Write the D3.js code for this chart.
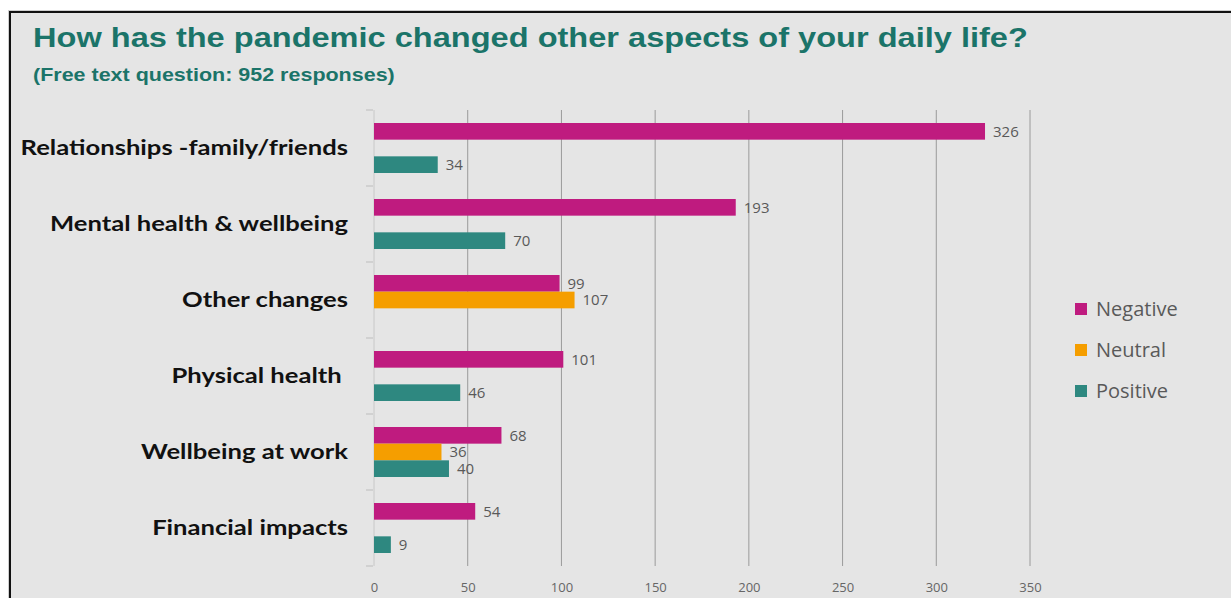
<!DOCTYPE html>
<html>
<head>
<meta charset="utf-8">
<script src="https://cdn.jsdelivr.net/npm/d3@7"></script>
<style>
  body { margin: 0; background: #fff; }
  svg { display: block; }
</style>
</head>
<body>
<svg id="chart" width="1231" height="598"></svg>
<script>
const categories = ["Relationships -family/friends", "Mental health & wellbeing", "Other changes", "Physical health ", "Wellbeing at work", "Financial impacts"];
const seriesNames = ["Negative", "Neutral", "Positive"];
const negative = [326, 193, 99, 101, 68, 54];
const neutral = [null, null, 107, null, 36, null];
const positive = [34, 70, null, 46, 40, 9];
const xTicks = [0, 50, 100, 150, 200, 250, 300, 350];

const colors = { Negative: "#bf1b7f", Neutral: "#f59e00", Positive: "#2e8880" };

const svg = d3.select("#chart");

// panel
svg.append("rect")
    .attr("x", 8).attr("y", 10)
    .attr("width", 1240).attr("height", 600)
    .attr("fill", "#cfcfcf");
svg.append("rect")
    .attr("x", 10).attr("y", 12)
    .attr("width", 1240).attr("height", 600)
    .attr("fill", "#e5e5e5")
    .attr("stroke", "#111")
    .attr("stroke-width", 2);

// titles: the source picture is stretched sideways, so widen the glyphs to fit
function fitText(sel, width) {
    const w = sel.node().getComputedTextLength();
    const x0 = +sel.attr("x"), y0 = +sel.attr("y");
    sel.attr("x", 0).attr("y", 0)
        .attr("transform", `translate(${x0},${y0}) scale(${width / w},1)`);
}

const title = svg.append("text")
    .attr("x", 33).attr("y", 47)
    .attr("font-family", "Liberation Sans, Arial, sans-serif")
    .attr("font-weight", "bold")
    .attr("font-size", 28)
    .attr("fill", "#1b7469")
    .text("How has the pandemic changed other aspects of your daily life?");
fitText(title, 995);

const subtitle = svg.append("text")
    .attr("x", 33).attr("y", 81)
    .attr("font-family", "Liberation Sans, Arial, sans-serif")
    .attr("font-weight", "bold")
    .attr("font-size", 18)
    .attr("fill", "#1b7469")
    .text("(Free text question: 952 responses)");
fitText(subtitle, 362);

const x = d3.scaleLinear().domain([0, 350]).range([374, 1030]);
const y = d3.scaleBand().domain(categories).range([110, 566]);
const ySub = d3.scaleBand().domain(seriesNames).range([0, y.bandwidth()]).paddingOuter(0.78);

// gridlines
svg.append("g").selectAll("line")
    .data(xTicks)
    .join("line")
    .attr("x1", d => x(d)).attr("x2", d => x(d))
    .attr("y1", 110).attr("y2", 566)
    .attr("stroke", d => d === 0 ? "#c8c8c8" : "#9a9a9a")
    .attr("stroke-width", 1);

// category boundary ticks
const bounds = categories.map(c => y(c)).concat([566]);
svg.append("g").selectAll("line")
    .data(bounds)
    .join("line")
    .attr("x1", 366).attr("x2", 373)
    .attr("y1", d => d).attr("y2", d => d)
    .attr("stroke", "#bdbdbd");

// x axis labels
const xAxis = d3.axisBottom(x).tickValues(xTicks).tickSize(0).tickPadding(0);
const gx = svg.append("g").attr("transform", "translate(0,583)").call(xAxis);
gx.select(".domain").remove();
gx.selectAll("text")
    .attr("font-family", "Open Sans, sans-serif")
    .attr("font-size", 13)
    .attr("fill", "#666");

// category labels
svg.append("g").selectAll("text")
    .data(categories)
    .join("text")
    .attr("transform", d => `translate(348,${y(d) + y.bandwidth() / 2}) scale(1.22,1)`)
    .attr("dy", "0.35em")
    .attr("text-anchor", "end")
    .attr("font-family", "Lato, sans-serif")
    .attr("font-weight", "bold")
    .attr("font-size", 21)
    .attr("fill", "#111")
    .style("white-space", "pre")
    .text(d => d);

// bars
const seriesData = { Negative: negative, Neutral: neutral, Positive: positive };
const rows = [];
seriesNames.forEach(s => {
    seriesData[s].forEach((v, i) => {
        if (v !== null) rows.push({ cat: categories[i], series: s, value: v });
    });
});

const bars = svg.append("g");
bars.selectAll("rect")
    .data(rows)
    .join("rect")
    .attr("x", x(0))
    .attr("y", d => y(d.cat) + ySub(d.series))
    .attr("width", d => x(d.value) - x(0))
    .attr("height", ySub.bandwidth())
    .attr("fill", d => colors[d.series]);

bars.selectAll("text")
    .data(rows)
    .join("text")
    .attr("x", d => x(d.value) + 8)
    .attr("y", d => y(d.cat) + ySub(d.series) + ySub.bandwidth() / 2)
    .attr("dy", "0.35em")
    .attr("font-family", "Open Sans, sans-serif")
    .attr("font-size", 15)
    .attr("fill", "#595959")
    .text(d => d.value);

// legend
const legend = svg.append("g").selectAll("g")
    .data(seriesNames)
    .join("g")
    .attr("transform", (d, i) => `translate(1075,${309 + i * 41})`);
legend.append("rect")
    .attr("x", 0).attr("y", -6)
    .attr("width", 12).attr("height", 12)
    .attr("fill", d => colors[d]);
legend.append("text")
    .attr("x", 21).attr("y", 0)
    .attr("dy", "0.35em")
    .attr("font-family", "Open Sans, sans-serif")
    .attr("font-size", 20)
    .attr("fill", "#595959")
    .text(d => d);
</script>
</body>
</html>
